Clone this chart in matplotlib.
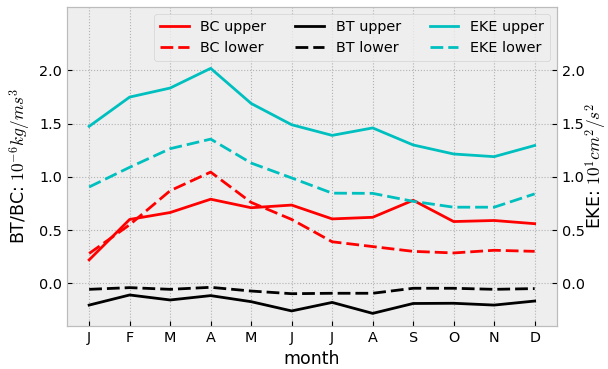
# Ciclo sazonal das conversões de energia (BT/BC) e da EKE, camadas superior e inferior
import numpy as np
import matplotlib
matplotlib.use('Agg')
import matplotlib.pyplot as plt

plt.style.use('bmh')
plt.rcParams['font.size'] = 10.4
plt.rcParams['lines.dashed_pattern'] = [4.6, 1.8]
plt.rcParams['grid.linestyle'] = ':'
plt.rcParams['grid.linewidth'] = 0.8

# Dados mensais
meses = np.arange(1, 13)
rotulos_meses = ['J', 'F', 'M', 'A', 'M', 'J', 'J', 'A', 'S', 'O', 'N', 'D']

bc_upper = [0.22, 0.60, 0.665, 0.79, 0.71, 0.735, 0.605, 0.62, 0.78, 0.58, 0.59, 0.56]
bc_lower = [0.28, 0.55, 0.87, 1.045, 0.76, 0.60, 0.39, 0.345, 0.30, 0.285, 0.31, 0.30]
bt_upper = [-0.205, -0.11, -0.157, -0.116, -0.173, -0.26, -0.18, -0.283, -0.19, -0.188, -0.205, -0.167]
bt_lower = [-0.057, -0.041, -0.057, -0.038, -0.073, -0.098, -0.094, -0.094, -0.047, -0.047, -0.057, -0.05]
eke_upper = [1.475, 1.75, 1.835, 2.02, 1.69, 1.49, 1.39, 1.46, 1.30, 1.215, 1.19, 1.295]
eke_lower = [0.905, 1.09, 1.265, 1.355, 1.13, 0.99, 0.847, 0.845, 0.77, 0.715, 0.715, 0.84]

fig = plt.figure(figsize=(6.08, 3.69), dpi=100)
ax1 = fig.add_axes([0.11, 0.117, 0.806, 0.865])
ax2 = ax1.twinx()

# Conversões baroclínica e barotrópica no eixo da esquerda
l1, = ax1.plot(meses, bc_upper, color='r', linestyle='-', label='BC upper')
l2, = ax1.plot(meses, bc_lower, color='r', linestyle='--', label='BC lower')
l3, = ax1.plot(meses, bt_upper, color='k', linestyle='-', label='BT upper')
l4, = ax1.plot(meses, bt_lower, color='k', linestyle='--', label='BT lower')

# EKE no eixo da direita
l5, = ax2.plot(meses, eke_upper, color='c', linestyle='-', label='EKE upper')
l6, = ax2.plot(meses, eke_lower, color='c', linestyle='--', label='EKE lower')

ax1.set_ylim(-0.4, 2.6)
ax2.set_ylim(-0.4, 2.6)
ax1.set_yticks([0.0, 0.5, 1.0, 1.5, 2.0])
ax2.set_yticks([0.0, 0.5, 1.0, 1.5, 2.0])
ax2.grid(False)

ax1.set_xticks(meses)
ax1.set_xticklabels(rotulos_meses)
ax1.set_xlabel('month')
ax1.set_ylabel(r'BT/BC: $10^{-6} kg/ms^3$')
ax2.set_ylabel(r'EKE: $10^1 cm^2/s^2$', labelpad=-1)

linhas = [l1, l2, l3, l4, l5, l6]
ax2.legend(linhas, [l.get_label() for l in linhas], loc='upper right', ncol=3)

plt.savefig('out.png', dpi=100)
